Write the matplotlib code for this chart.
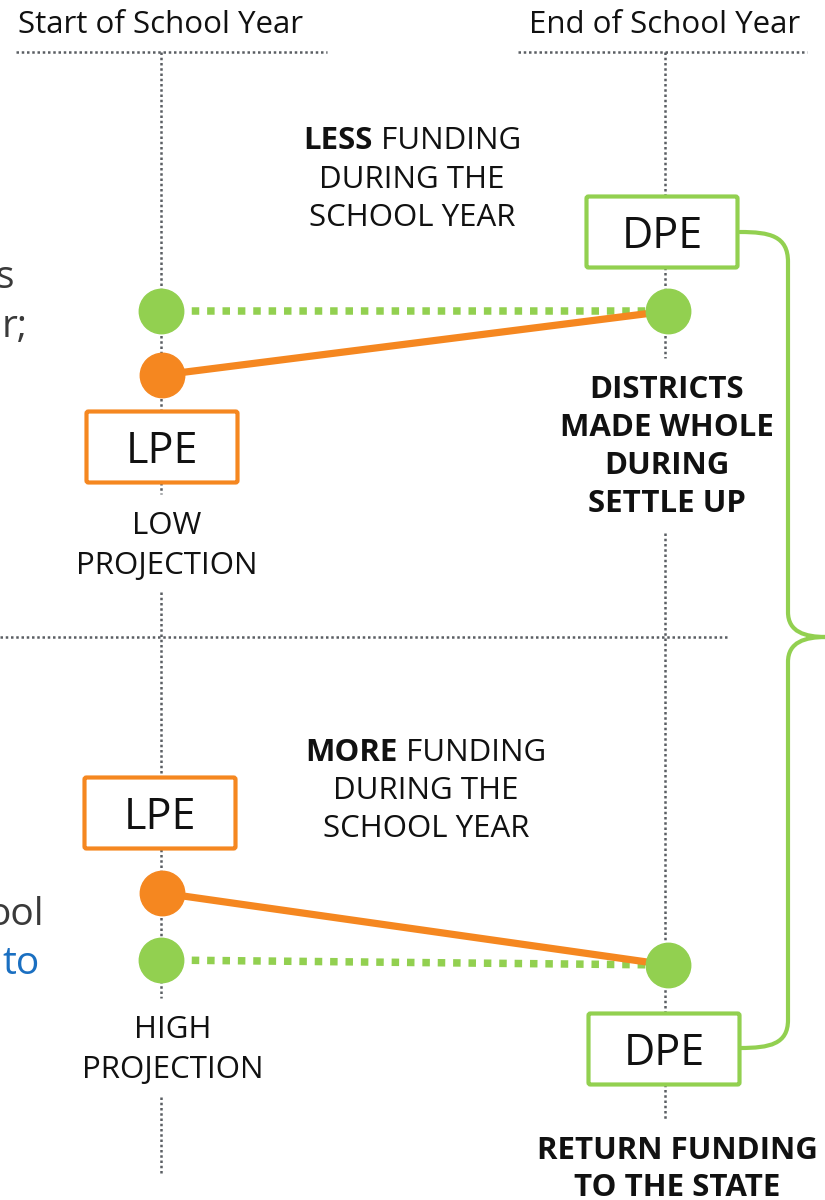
import matplotlib.pyplot as plt
from matplotlib.patches import FancyBboxPatch, PathPatch
from matplotlib.path import Path

plt.rcParams['font.family'] = ['Open Sans', 'DejaVu Sans']

GREEN = '#92D050'
ORANGE = '#F58720'
GRAY = '#5a5e63'
INK = '#111111'
FS = 22.5

# two columns: start and end of the school year
col_x = [161, 665]
col_titles = ['Start of School Year', 'End of School Year']

# vertical positions of the estimates, top panel (low) and bottom panel (high)
lpe_start = [375, 893]
dpe_start = [311, 960]
dpe_end = [311, 965]

# label boxes: (center x, center y, text, colour)
boxes = [
    (662, 232, 'DPE', GREEN),
    (162, 447, 'LPE', ORANGE),
    (160, 813, 'LPE', ORANGE),
    (664, 1049, 'DPE', GREEN),
]

fig = plt.figure(figsize=(8.25, 12), dpi=100)
ax = fig.add_axes([0, 0, 1, 1])
ax.set_xlim(0, 825)
ax.set_ylim(1200, 0)
ax.axis('off')

dot_kw = dict(color=GRAY, lw=1.8, linestyle=(0, (1, 1.1)))

# header rules and mid separator
ax.plot([16, 327], [52, 52], **dot_kw)
ax.plot([518, 807], [52, 52], **dot_kw)
ax.plot([0, 727], [637, 637], **dot_kw)

# vertical timelines with gaps for the labels
for y0, y1 in [(52, 494), (592, 998), (1097, 1175)]:
    ax.plot([col_x[0], col_x[0]], [y0, y1], **dot_kw)
for y0, y1 in [(52, 358), (533, 1119)]:
    ax.plot([col_x[1], col_x[1]], [y0, y1], **dot_kw)

for x, t in zip([161, 665], col_titles):
    ax.text(x, 33, t, ha='center', va='baseline', fontsize=FS, color=INK)

# estimate paths
for i in range(2):
    ax.plot([col_x[0], 668], [dpe_start[i], dpe_end[i]], color=GREEN, lw=5.4,
            linestyle=(0, (1.0, 1.05)), dash_capstyle='butt', zorder=2)
    ax.plot([162, 668], [lpe_start[i], dpe_end[i]], color=ORANGE, lw=5.2, zorder=3,
            solid_capstyle='butt')
    ax.plot([162], [lpe_start[i]], 'o', ms=32, color=ORANGE, zorder=5)
    ax.plot([161, 668], [dpe_start[i], dpe_end[i]], 'o', ms=32, color=GREEN,
            lw=0, zorder=5)

for cx, cy, t, c in boxes:
    w, h = 151, 71
    ax.add_patch(FancyBboxPatch((cx - w / 2, cy - h / 2), w, h,
                                boxstyle='round,pad=0,rounding_size=2',
                                fc='white', ec=c, lw=3, zorder=6))
    ax.text(cx, cy + 16, t, ha='center', va='baseline', fontsize=31,
            color=INK, zorder=7)

# curly brace on the right
verts = [(740, 232), (770, 232), (788, 236), (788, 262),
         (788, 612),
         (788, 632), (805, 637), (826, 637),
         (805, 637), (788, 642), (788, 662),
         (788, 1020),
         (788, 1044), (770, 1048), (740, 1048)]
codes = [Path.MOVETO, Path.CURVE4, Path.CURVE4, Path.CURVE4,
         Path.LINETO,
         Path.CURVE4, Path.CURVE4, Path.CURVE4,
         Path.CURVE4, Path.CURVE4, Path.CURVE4,
         Path.LINETO,
         Path.CURVE4, Path.CURVE4, Path.CURVE4]
ax.add_patch(PathPatch(Path(verts, codes), fc='none', ec=GREEN, lw=3,
                       capstyle='round', zorder=4))

fig.canvas.draw()
renderer = fig.canvas.get_renderer()


def mixed_line(cx, y, bold, rest):
    t1 = ax.text(0, y, bold, fontsize=FS, fontweight='bold', va='baseline', color=INK)
    t2 = ax.text(0, y, rest, fontsize=FS, va='baseline', color=INK)
    w1 = t1.get_window_extent(renderer).width
    w2 = t2.get_window_extent(renderer).width
    x0 = cx - (w1 + w2) / 2
    t1.set_x(x0)
    t2.set_x(x0 + w1)


def lines(cx, ys, texts, bold=False):
    for y, t in zip(ys, texts):
        ax.text(cx, y, t, ha='center', va='baseline', fontsize=FS,
                fontweight='bold' if bold else 'normal', color=INK)


mixed_line(412, 149, 'LESS', ' FUNDING')
lines(412, [188, 226], ['DURING THE', 'SCHOOL YEAR'])
mixed_line(426, 761, 'MORE', ' FUNDING')
lines(426, [799, 837], ['DURING THE', 'SCHOOL YEAR'])

lines(667, [398, 436, 474, 512],
      ['DISTRICTS', 'MADE WHOLE', 'DURING', 'SETTLE UP'], bold=True)
lines(677, [1159, 1196], ['RETURN FUNDING', 'TO THE STATE'], bold=True)

lines(167, [534, 574], ['LOW', 'PROJECTION'])
lines(173, [1038, 1078], ['HIGH', 'PROJECTION'])

# text cut off at the left edge
for x, y, t, c in [(14, 288, 's', '#3a3a3a'), (28, 337, 'r;', '#3a3a3a'),
                   (44, 925, 'ool', '#3a3a3a'), (40, 974, 'to', '#1a6fc1')]:
    ax.text(x, y, t, ha='right', va='baseline', fontsize=28, color=c)

fig.savefig('out.png', dpi=100)
